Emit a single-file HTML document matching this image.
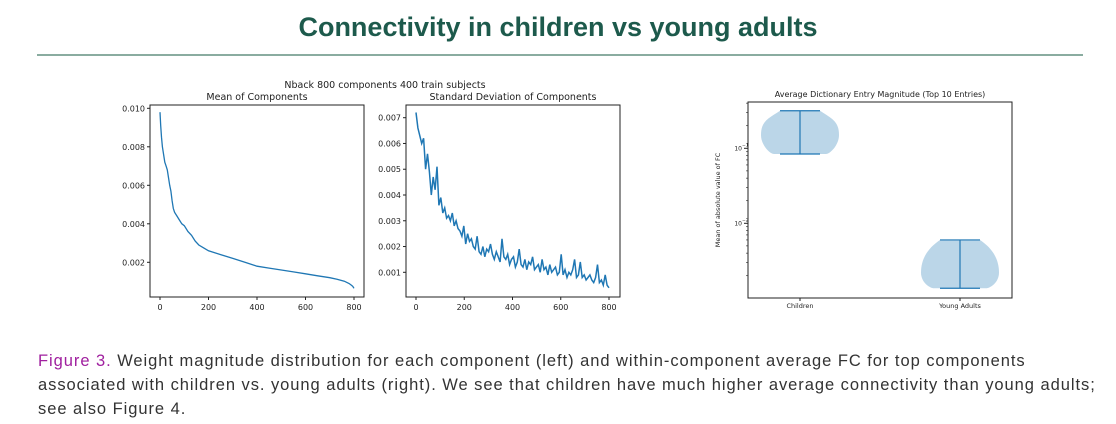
<!DOCTYPE html>
<html><head><meta charset="utf-8"><style>
body{margin:0;width:1116px;height:424px;background:#fff;overflow:hidden;font-family:"Liberation Sans",sans-serif}
#title{position:absolute;left:0;width:1116px;top:12px;text-align:center;font-size:27px;font-weight:bold;color:#1d5a4c}
#rule{position:absolute;left:37px;width:1046px;top:54px;height:2px;background:#8aaca0}
#cap{position:absolute;left:38px;top:349px;width:1075px;font-size:16.5px;line-height:24px;color:#333;white-space:nowrap;letter-spacing:0.95px}
#cap .f{color:#a0209f}
svg{position:absolute;left:0;top:0}
svg text{font-family:"DejaVu Sans",sans-serif;fill:#222}
</style></head><body>
<div id="title">Connectivity in children vs young adults</div>
<div id="rule"></div>
<svg id="chart" width="1116" height="340"></svg>
<div id="cap"><span class="f">Figure 3.</span> Weight magnitude distribution for each component (left) and within-component average FC for top components<br>associated with children vs. young adults (right). We see that children have much higher average connectivity than young adults;<br>see also Figure 4.</div>
<script>
const meanX=[0,3,6,10,15,20,25,30,35,40,45,50,55,60,70,80,90,100,115,130,145,160,180,200,250,300,350,400,450,500,550,600,650,700,730,760,780,790,795,800];
const meanY=[0.0098,0.0091,0.0085,0.0080,0.0076,0.0072,0.0070,0.0068,0.0064,0.0060,0.0057,0.0052,0.0048,0.0046,0.0044,0.0042,0.0040,0.0039,0.0036,0.0034,0.0031,0.0029,0.00275,0.0026,0.0024,0.0022,0.0020,0.0018,0.0017,0.0016,0.0015,0.0014,0.0013,0.0012,0.00112,0.00102,0.0009,0.0008,0.00075,0.00065];
const stdY=[0.0072,0.0066,0.0063,0.0060,0.0062,0.0050,0.0056,0.0049,0.0040,0.0047,0.0042,0.0051,0.0036,0.0039,0.0033,0.0035,0.0031,0.0032,0.0030,0.0033,0.0028,0.0030,0.0027,0.0026,0.0024,0.0028,0.0021,0.0025,0.0022,0.0023,0.0020,0.0019,0.0024,0.0018,0.0017,0.0020,0.0016,0.0019,0.0018,0.0021,0.0017,0.0015,0.0018,0.0016,0.0014,0.0023,0.0016,0.0015,0.0017,0.0013,0.0015,0.0016,0.0012,0.0014,0.0019,0.0013,0.0012,0.0015,0.0011,0.0014,0.0013,0.0016,0.0011,0.0012,0.0013,0.0010,0.0015,0.0011,0.0012,0.0009,0.0013,0.0010,0.0011,0.0012,0.0009,0.0010,0.0017,0.0009,0.0011,0.0008,0.0010,0.0009,0.0011,0.0015,0.0008,0.0009,0.0014,0.0008,0.0009,0.0007,0.0008,0.0009,0.0007,0.0006,0.0008,0.0013,0.0006,0.0007,0.0005,0.0009,0.0005,0.0004];
const xTicks=[0,200,400,600,800];
const meanTicks=[0.002,0.004,0.006,0.008,0.010];
const stdTicks=[0.001,0.002,0.003,0.004,0.005,0.006,0.007];
const groups=["Children","Young Adults"];
const vMin=[0.084,0.00136];
const vMax=[0.317,0.0060];
const vMode=[0.15,0.0022];
const svg=document.getElementById('chart');const NS='http://www.w3.org/2000/svg';
function mk(t,a,txt){const e=document.createElementNS(NS,t);for(const k in a)e.setAttribute(k,a[k]);if(txt!=null)e.textContent=txt;svg.appendChild(e);return e;}
function panel(L,R,T,B,x0,x1,sx,yv0,yv1,sy0,sy1,ticks,fmt,title,name){
  const fx=v=>x0+(v-0)/(800)*(x1-x0);const fy=v=>sy0+(v-yv0)/(yv1-yv0)*(sy1-sy0);
  const fr=mk('rect',{x:L,y:T,width:R-L,height:B-T,fill:'none',stroke:'#222','stroke-width':1});
  
  xTicks.forEach(t=>{mk('line',{x1:fx(t),x2:fx(t),y1:B,y2:B+3,stroke:'#222'});const e=mk('text',{x:fx(t),y:B+13,'font-size':8,'text-anchor':'middle'},t);});
  ticks.forEach(t=>{mk('line',{x1:L-3,x2:L,y1:fy(t),y2:fy(t),stroke:'#222'});const e=mk('text',{x:L-5,y:fy(t)+3,'font-size':8,'text-anchor':'end'},t.toFixed(3));});
  const tt=mk('text',{x:(L+R)/2,y:T-5,'font-size':9.5,'text-anchor':'middle'},title);
  return {fx,fy};
}
const m=panel(150,364,105,297,160,354,0,0.010,0.002,108.3,262.3,meanTicks,null,'Mean of Components','mean-panel');
let d=meanX.map((x,i)=>(i?'L':'M')+m.fx(x).toFixed(1)+','+m.fy(meanY[i]).toFixed(1)).join('');
const ml=mk('path',{d,fill:'none',stroke:'#1f77b4','stroke-width':1.3});

const s=panel(406,620,105,297,416,609,0,0.007,0.001,117.7,272.3,stdTicks,null,'Standard Deviation of Components','std-panel');
d=stdY.map((v,i)=>(i?'L':'M')+s.fx(i*800/(stdY.length-1)).toFixed(1)+','+s.fy(v).toFixed(1)).join('');
const sl=mk('path',{d,fill:'none',stroke:'#1f77b4','stroke-width':1.5});

const st=mk('text',{x:385,y:88,'font-size':9.5,'text-anchor':'middle'},'Nback 800 components 400 train subjects');

const VL=748,VR=1012,VT=102,VB=298;
const ly=v=>148.3-(Math.log10(v)+1)*75;
const cx=[800,960];
const vf=mk('rect',{x:VL,y:VT,width:VR-VL,height:VB-VT,fill:'none',stroke:'#222'});

[-1,-2].forEach(p=>{const y=ly(Math.pow(10,p));mk('line',{x1:VL-4,x2:VL,y1:y,y2:y,stroke:'#222'});const e=mk('text',{x:VL-6,y:y+2,'font-size':6,'text-anchor':'end'},'10');mk('text',{x:VL-6,y:y-2,'font-size':4.5},'\u2212'+(-p));});
for(let p=-3;p<0;p++)for(let k=2;k<10;k++){const y=ly(k*Math.pow(10,p));if(y>VT&&y<VB)mk('line',{x1:VL-2,x2:VL,y1:y,y2:y,stroke:'#222','stroke-width':0.6});}
const yt=mk('text',{x:0,y:0,'font-size':6.5,'text-anchor':'middle',transform:`translate(720,200) rotate(-90)`},'Mean of absolute value of FC');

const vt=mk('text',{x:880,y:97,'font-size':8,'text-anchor':'middle'},'Average Dictionary Entry Magnitude (Top 10 Entries)');

groups.forEach((g,i)=>{
  const y0=ly(vMax[i]),y1=ly(vMin[i]),ym=ly(vMode[i]),c=cx[i],w=39;
  const p=`M${c-20},${y0} C${c-32},${y0+8} ${c-w},${ym-14} ${c-w},${ym} C${c-w},${ym+10} ${c-30},${y1} ${c-26},${y1} L${c+26},${y1} C${c+30},${y1} ${c+w},${ym+10} ${c+w},${ym} C${c+w},${ym-14} ${c+32},${y0+8} ${c+20},${y0}Z`;
  const b=mk('path',{d:p,fill:'#1f77b4','fill-opacity':0.3});
  
  mk('line',{x1:c,x2:c,y1:y0,y2:y1,stroke:'#1f77b4','stroke-width':1.2});
  mk('line',{x1:c-20,x2:c+20,y1:y0,y2:y0,stroke:'#1f77b4','stroke-width':1.2});
  mk('line',{x1:c-20,x2:c+20,y1:y1,y2:y1,stroke:'#1f77b4','stroke-width':1.2});
  mk('line',{x1:c,x2:c,y1:VB,y2:VB+3,stroke:'#222'});
  const l=mk('text',{x:c,y:VB+10,'font-size':6.5,'text-anchor':'middle'},g);
  
});
</script>
</body></html>
